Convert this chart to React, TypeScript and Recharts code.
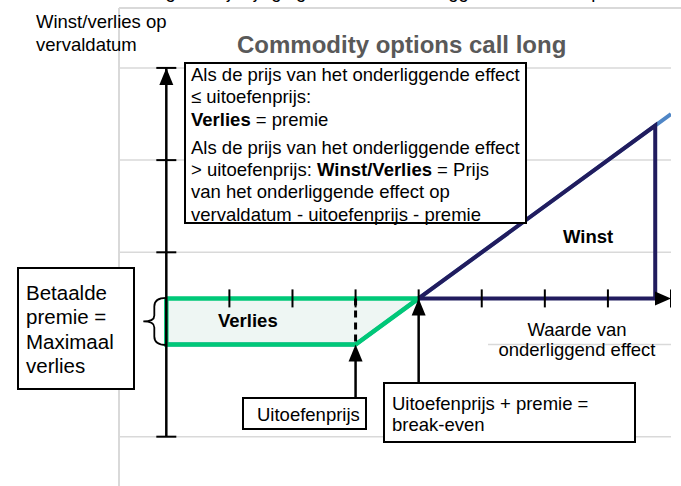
import type { CSSProperties } from 'react';
import { ComposedChart, XAxis, YAxis, Line, Area, Scatter, ReferenceLine } from 'recharts';

// long call payoff, x and y both measured in units of the premium
// strike at 3, break-even (strike + premium) at 4
const payoffLine = [
  { x: 0, y: -1 },
  { x: 3, y: -1 },
  { x: 8, y: 4 },
];

const lossArea = [
  { x: 0, lo: -1, hi: 0 },
  { x: 3, lo: -1, hi: 0 },
  { x: 4, lo: 0, hi: 0 },
];

const lossOutline = [
  { x: 0, y: 0 },
  { x: 4, y: 0 },
  { x: 3, y: -1 },
  { x: 0, y: -1 },
  { x: 0, y: 0 },
];

const profitOutline = [
  { x: 4, y: 0 },
  { x: 7.75, y: 3.75 },
  { x: 7.75, y: 0 },
];

const valueAxis = [{ x: 4, y: 0 }, { x: 7.8, y: 0 }];
const resultAxis = [{ x: 0, y: -3 }, { x: 0, y: 5 }];
const strikeDash = [{ x: 3, y: 0 }, { x: 3, y: -1 }];
const strikePointer = [{ x: 3, y: -1.2 }, { x: 3, y: -2.15 }];
const breakEvenPointer = [{ x: 4, y: -0.3 }, { x: 4, y: -1.83 }];

const xTicks = [1, 2, 3, 4, 5, 6, 7, 8];
const yTicks = [-3, 1, 3, 5];
const gridTicks = [-3, 1, 3, 5];
const upArrows = [{ x: 0, y: 5 }, { x: 3, y: -1 }, { x: 4, y: 0 }];
const rightArrows = [{ x: 8, y: 0 }];
const premiumBrace = [{ x: 0, y: -0.5 }];

const X_MIN = -0.75;
const X_MAX = 8;
const Y_MIN = -4.2;
const Y_MAX = 6.3;

const GREEN = '#00c878';
const NAVY = '#211c5e';
const BLUE = '#4f86c6';
const GRID = '#d9d9d9';
const FONT = "'Liberation Sans', Arial, sans-serif";

const box: CSSProperties = {
  position: 'absolute',
  boxSizing: 'border-box',
  border: '2px solid #000',
  background: '#fff',
  whiteSpace: 'nowrap',
  color: '#000',
};

const label: CSSProperties = {
  position: 'absolute',
  whiteSpace: 'nowrap',
  color: '#000',
  fontSize: 18.5,
};

const vTick = (p: any) => (
  <line x1={p.cx} x2={p.cx} y1={p.cy - 9} y2={p.cy + 9} stroke="#000" strokeWidth={2} />
);
const hTick = (p: any) => (
  <line x1={p.cx - 10} x2={p.cx + 10} y1={p.cy} y2={p.cy} stroke="#000" strokeWidth={2} />
);
const upHead = (p: any) => (
  <path d={`M${p.cx},${p.cy} L${p.cx - 7},${p.cy + 17} L${p.cx + 7},${p.cy + 17} Z`} fill="#000" />
);
const rightHead = (p: any) => (
  <path d={`M${p.cx},${p.cy} L${p.cx - 16},${p.cy - 7} L${p.cx - 16},${p.cy + 7} Z`} fill="#000" />
);
const brace = (p: any) => {
  const { cx, cy } = p;
  return (
    <path
      d={`M${cx},${cy - 23.5} C${cx - 8},${cy - 23.5} ${cx - 12},${cy - 21} ${cx - 12},${cy - 15}
        L${cx - 12},${cy - 6} C${cx - 12},${cy - 2} ${cx - 16},${cy} ${cx - 23},${cy}
        C${cx - 16},${cy} ${cx - 12},${cy + 2} ${cx - 12},${cy + 6}
        L${cx - 12},${cy + 15} C${cx - 12},${cy + 21} ${cx - 8},${cy + 23.5} ${cx},${cy + 23.5}`}
      fill="none"
      stroke="#000"
      strokeWidth={1.8}
    />
  );
};

export default function App() {
  return (
    <div
      style={{
        position: 'fixed',
        left: 0,
        top: 0,
        width: 681,
        height: 486,
        overflow: 'hidden',
        background: '#fff',
        fontFamily: FONT,
      }}
    >
      <div style={{ ...label, left: 4, top: -19, color: '#000' }}>
        Winst- en verliesdiagram bij wijzigingen van de onderliggende waarde op vervaldatum
      </div>

      <ComposedChart width={681} height={492} margin={{ top: 8, right: 10, bottom: 0, left: 119 }}>
        <XAxis type="number" dataKey="x" domain={[X_MIN, X_MAX]} hide allowDataOverflow />
        <YAxis type="number" domain={[Y_MIN, Y_MAX]} hide allowDataOverflow />

        {/* chart frame and horizontal gridlines */}
        <ReferenceLine x={X_MIN} stroke={GRID} strokeWidth={2} ifOverflow="visible" />
        <ReferenceLine
          segment={[{ x: X_MIN, y: Y_MAX }, { x: 8.2, y: Y_MAX }]}
          stroke={GRID}
          strokeWidth={2}
          ifOverflow="visible"
        />
        {gridTicks.map((v) => (
          <ReferenceLine key={v} y={v} stroke={GRID} strokeWidth={1.5} />
        ))}
        <ReferenceLine segment={[{ x: 5.1, y: -1 }, { x: X_MAX, y: -1 }]} stroke={GRID} strokeWidth={1.5} />

        <Area
          data={lossArea}
          dataKey={(d: any) => [d.lo, d.hi]}
          type="linear"
          fill="#eef6f3"
          fillOpacity={1}
          stroke="none"
          isAnimationActive={false}
        />
        <Line data={payoffLine} dataKey="y" type="linear" stroke={BLUE} strokeWidth={4} dot={false} activeDot={false} isAnimationActive={false} />
        <Line data={lossOutline} dataKey="y" type="linear" stroke={GREEN} strokeWidth={4.5} dot={false} activeDot={false} isAnimationActive={false} />
        <Line data={profitOutline} dataKey="y" type="linear" stroke={NAVY} strokeWidth={4} dot={false} activeDot={false} isAnimationActive={false} />
        <Line data={valueAxis} dataKey="y" type="linear" stroke={NAVY} strokeWidth={4} dot={false} activeDot={false} isAnimationActive={false} />
        <Line data={resultAxis} dataKey="y" type="linear" stroke="#000" strokeWidth={2.5} dot={false} activeDot={false} isAnimationActive={false} />
        <Line data={strikeDash} dataKey="y" type="linear" stroke="#000" strokeWidth={3} strokeDasharray="7 5" dot={false} activeDot={false} isAnimationActive={false} />
        <Line data={strikePointer} dataKey="y" type="linear" stroke="#000" strokeWidth={2.5} dot={false} activeDot={false} isAnimationActive={false} />
        <Line data={breakEvenPointer} dataKey="y" type="linear" stroke="#000" strokeWidth={2.5} dot={false} activeDot={false} isAnimationActive={false} />

        <Scatter data={xTicks.map((x) => ({ x, y: 0 }))} dataKey="y" shape={vTick} isAnimationActive={false} />
        <Scatter data={yTicks.map((y) => ({ x: 0, y }))} dataKey="y" shape={hTick} isAnimationActive={false} />
        <Scatter data={upArrows} dataKey="y" shape={upHead} isAnimationActive={false} />
        <Scatter data={rightArrows} dataKey="y" shape={rightHead} isAnimationActive={false} />
        <Scatter data={premiumBrace} dataKey="y" shape={brace} isAnimationActive={false} />
      </ComposedChart>

      <div style={{ ...label, left: 36, top: 10, lineHeight: '23px' }}>
        Winst/verlies op
        <br />
        vervaldatum
      </div>
      <div style={{ ...label, left: 237, top: 31, fontSize: 24, lineHeight: '28px', fontWeight: 'bold', color: '#595959' }}>
        Commodity options call long
      </div>

      <div style={{ ...box, left: 184, top: 62, width: 343, height: 162, fontSize: 18.5, lineHeight: '22.3px', paddingLeft: 5 }}>
        <div>
          Als de prijs van het onderliggende effect
          <br />≤ uitoefenprijs:
          <br />
          <b>Verlies</b> = premie
        </div>
        <div style={{ marginTop: 6 }}>
          Als de prijs van het onderliggende effect
          <br />
          &gt; uitoefenprijs: <b>Winst/Verlies</b> = Prijs
          <br />
          van het onderliggende effect op
          <br />
          vervaldatum - uitoefenprijs - premie
        </div>
      </div>

      <div style={{ ...box, left: 17, top: 267, width: 118, height: 123, fontSize: 20.5, lineHeight: '24.3px', padding: '12px 0 0 7px' }}>
        Betaalde
        <br />
        premie =
        <br />
        Maximaal
        <br />
        verlies
      </div>

      <div style={{ ...box, left: 242, top: 397, width: 125, height: 33, fontSize: 18.5, lineHeight: '22px', padding: '5px 0 0 13px' }}>
        Uitoefenprijs
      </div>

      <div style={{ ...box, left: 383, top: 382, width: 253, height: 61, fontSize: 18.5, lineHeight: '21px', padding: '8.5px 0 0 7px' }}>
        Uitoefenprijs + premie =
        <br />
        break-even
      </div>

      <div style={{ ...label, left: 218, top: 310, lineHeight: '22px', fontWeight: 'bold' }}>Verlies</div>
      <div style={{ ...label, left: 563, top: 226, lineHeight: '22px', fontWeight: 'bold' }}>Winst</div>
      <div style={{ ...label, left: 477, top: 320, width: 200, lineHeight: '20px', textAlign: 'center' }}>
        Waarde van
        <br />
        onderliggend effect
      </div>
    </div>
  );
}
